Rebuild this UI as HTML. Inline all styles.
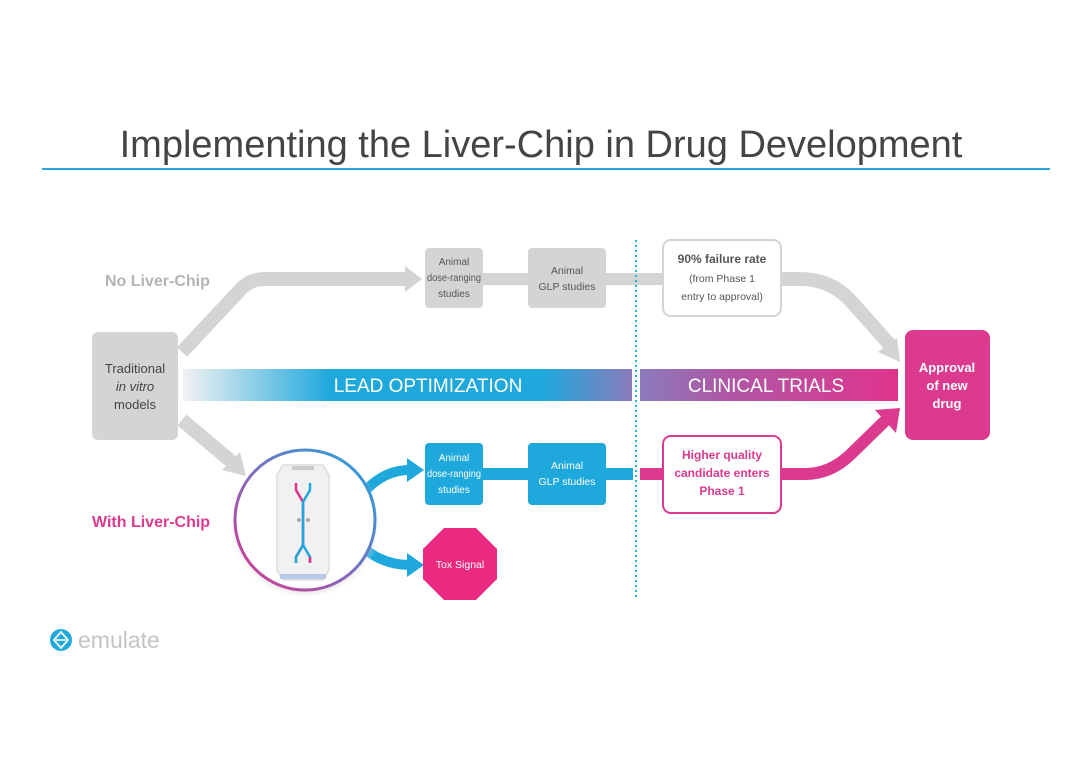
<!DOCTYPE html>
<html><head><meta charset="utf-8"><style>
html,body{margin:0;padding:0;background:#fff;}
svg{display:block;font-family:"Liberation Sans",sans-serif;}
</style></head><body>
<svg width="1080" height="759" viewBox="0 0 1080 759" xmlns="http://www.w3.org/2000/svg">
<defs>
<linearGradient id="lead" x1="183" x2="632" y1="0" y2="0" gradientUnits="userSpaceOnUse">
<stop offset="0" stop-color="#f2f2f2"/><stop offset="0.33" stop-color="#1ea8dc"/><stop offset="0.8" stop-color="#1ea8dc"/><stop offset="1" stop-color="#8a7bbb"/>
</linearGradient>
<linearGradient id="clin" x1="640" x2="898" y1="0" y2="0" gradientUnits="userSpaceOnUse">
<stop offset="0" stop-color="#8a7bbb"/><stop offset="0.35" stop-color="#b056a4"/><stop offset="1" stop-color="#e0348c"/>
</linearGradient>
<linearGradient id="ring" x1="0" y1="1" x2="1" y2="0">
<stop offset="0" stop-color="#e0348c"/><stop offset="0.5" stop-color="#7a6fc0"/><stop offset="1" stop-color="#1ea8dc"/>
</linearGradient>
<radialGradient id="shadow" cx="0.5" cy="0.5" r="0.5">
<stop offset="0.85" stop-color="#bbb" stop-opacity="0.6"/><stop offset="1" stop-color="#fff" stop-opacity="0"/>
</radialGradient>
</defs>

<text x="541" y="157" text-anchor="middle" font-size="38" fill="#444">Implementing the Liver-Chip in Drug Development</text>
<rect x="42" y="168" width="1008" height="2" fill="#2aa8e0"/>

<path d="M182 352 L240 290 Q250 279 265 279 L408 279" fill="none" stroke="#d4d4d4" stroke-width="14"/>
<polygon points="405,266 422,279 405,292" fill="#d4d4d4"/>
<rect x="483" y="273" width="45" height="12" fill="#d4d4d4"/>
<rect x="606" y="273" width="57" height="12" fill="#d4d4d4"/>
<path d="M781 279 L800 279 Q830 279 850 300 L890 345" fill="none" stroke="#d4d4d4" stroke-width="14"/>
<polygon points="878,352 900,362 897,338" fill="#d4d4d4"/>

<path d="M182 420 L232 462" fill="none" stroke="#d4d4d4" stroke-width="14"/>
<polygon points="222,470 246,476 240,452" fill="#d4d4d4"/>

<rect x="92" y="332" width="86" height="108" rx="6" fill="#d4d4d4"/>
<text font-size="13" fill="#444" text-anchor="middle"><tspan x="135" y="373">Traditional</tspan><tspan x="135" y="391" font-style="italic">in vitro</tspan><tspan x="135" y="409">models</tspan></text>

<text x="105" y="286" font-size="16" font-weight="bold" fill="#b4b4b4">No Liver-Chip</text>
<text x="92" y="527" font-size="16" font-weight="bold" fill="#dc3a8e">With Liver-Chip</text>

<rect x="425" y="248" width="58" height="60" rx="4" fill="#d4d4d4"/>
<text font-size="10" fill="#555" text-anchor="middle"><tspan x="454" y="265">Animal</tspan><tspan x="454" y="281" textLength="54" lengthAdjust="spacingAndGlyphs">dose-ranging</tspan><tspan x="454" y="297">studies</tspan></text>
<rect x="528" y="248" width="78" height="60" rx="4" fill="#d4d4d4"/>
<text font-size="10.5" fill="#555" text-anchor="middle"><tspan x="567" y="274">Animal</tspan><tspan x="567" y="290">GLP studies</tspan></text>
<rect x="663" y="240" width="118" height="76" rx="8" fill="#fff" stroke="#d4d4d4" stroke-width="2"/>
<text font-size="10.5" fill="#555" text-anchor="middle"><tspan x="722" y="263" font-weight="bold" font-size="12">90% failure rate</tspan><tspan x="722" y="282">(from Phase 1</tspan><tspan x="722" y="300">entry to approval)</tspan></text>

<rect x="183" y="369" width="449" height="32" fill="url(#lead)"/>
<text x="428" y="392" text-anchor="middle" font-size="19" fill="#fff">LEAD OPTIMIZATION</text>
<rect x="640" y="369" width="258" height="32" fill="url(#clin)"/>
<text x="766" y="392" text-anchor="middle" font-size="19" fill="#fff">CLINICAL TRIALS</text>

<line x1="636" y1="240" x2="636" y2="600" stroke="#2ab3d6" stroke-width="2" stroke-dasharray="2,3"/>

<rect x="905" y="330" width="85" height="110" rx="8" fill="#dc3a8e"/>
<text font-size="13" font-weight="bold" fill="#fff" text-anchor="middle"><tspan x="947" y="372">Approval</tspan><tspan x="947" y="390">of new</tspan><tspan x="947" y="408">drug</tspan></text>

<path d="M366 490 Q385 470 410 470" fill="none" stroke="#1ea8dc" stroke-width="10"/>
<polygon points="407,458 424,470 407,482" fill="#1ea8dc"/>
<path d="M366 550 Q385 565 410 565" fill="none" stroke="#1ea8dc" stroke-width="10"/>
<polygon points="407,553 424,565 407,577" fill="#1ea8dc"/>

<circle cx="305" cy="524" r="76" fill="url(#shadow)"/>
<circle cx="305" cy="520" r="70" fill="#fff" stroke="url(#ring)" stroke-width="3"/>
<path d="M283 465 L323 465 L329 475 L329 570 L323 580 L283 580 L277 570 L277 475 Z" fill="#f1f1f1" stroke="#ddd" stroke-width="1.5"/>
<rect x="292" y="466" width="22" height="4" fill="#ccc"/>
<rect x="280" y="574" width="46" height="5" fill="#b8c8e8"/>
<path d="M296 483 L296 490 L303 502 L303 545 L296 557 L296 563" fill="none" stroke="#e0348c" stroke-width="2.5"/>
<path d="M296 563 L296 557 L303 545" fill="none" stroke="#1ea8dc" stroke-width="2.5"/>
<path d="M310 483 L310 490 L303 502 L303 545 L310 557 L310 563" fill="none" stroke="#1ea8dc" stroke-width="2.5"/>
<path d="M310 557 L310 563" fill="none" stroke="#e0348c" stroke-width="2.5"/>
<circle cx="299" cy="520" r="2" fill="#aaa"/><circle cx="308" cy="520" r="2" fill="#aaa"/>

<rect x="425" y="443" width="58" height="62" rx="4" fill="#1ea8dc"/>
<text font-size="10" fill="#fff" text-anchor="middle"><tspan x="454" y="461">Animal</tspan><tspan x="454" y="477" textLength="54" lengthAdjust="spacingAndGlyphs">dose-ranging</tspan><tspan x="454" y="493">studies</tspan></text>
<rect x="483" y="468" width="45" height="12" fill="#1ea8dc"/>
<rect x="528" y="443" width="78" height="62" rx="4" fill="#1ea8dc"/>
<text font-size="10.5" fill="#fff" text-anchor="middle"><tspan x="567" y="469">Animal</tspan><tspan x="567" y="485">GLP studies</tspan></text>
<rect x="606" y="468" width="27" height="12" fill="#1ea8dc"/>
<rect x="640" y="468" width="23" height="12" fill="#dc3a8e"/>

<polygon points="444,528 476,528 497,549 497,579 476,600 444,600 423,579 423,549" fill="#ea2a7e"/>
<text x="460" y="568" text-anchor="middle" font-size="10.5" fill="#fff">Tox Signal</text>

<rect x="663" y="436" width="118" height="77" rx="8" fill="#fff" stroke="#dc3a8e" stroke-width="2"/>
<text font-size="12" font-weight="bold" fill="#dc3a8e" text-anchor="middle"><tspan x="722" y="459">Higher quality</tspan><tspan x="722" y="477">candidate enters</tspan><tspan x="722" y="495">Phase 1</tspan></text>
<path d="M781 474 L805 474 Q830 474 850 455 L888 418" fill="none" stroke="#dc3a8e" stroke-width="12"/>
<polygon points="875,410 900,408 896,433" fill="#dc3a8e"/>

<circle cx="61" cy="640" r="11" fill="#1ea8dc"/>
<path d="M61 632 L68 640 L61 648 L54 640 Z" fill="none" stroke="#fff" stroke-width="1.8"/>
<line x1="56" y1="640" x2="66" y2="640" stroke="#fff" stroke-width="1.5"/>
<text x="78" y="648" font-size="23" fill="#c4c4c4">emulate</text>
</svg>
</body></html>
